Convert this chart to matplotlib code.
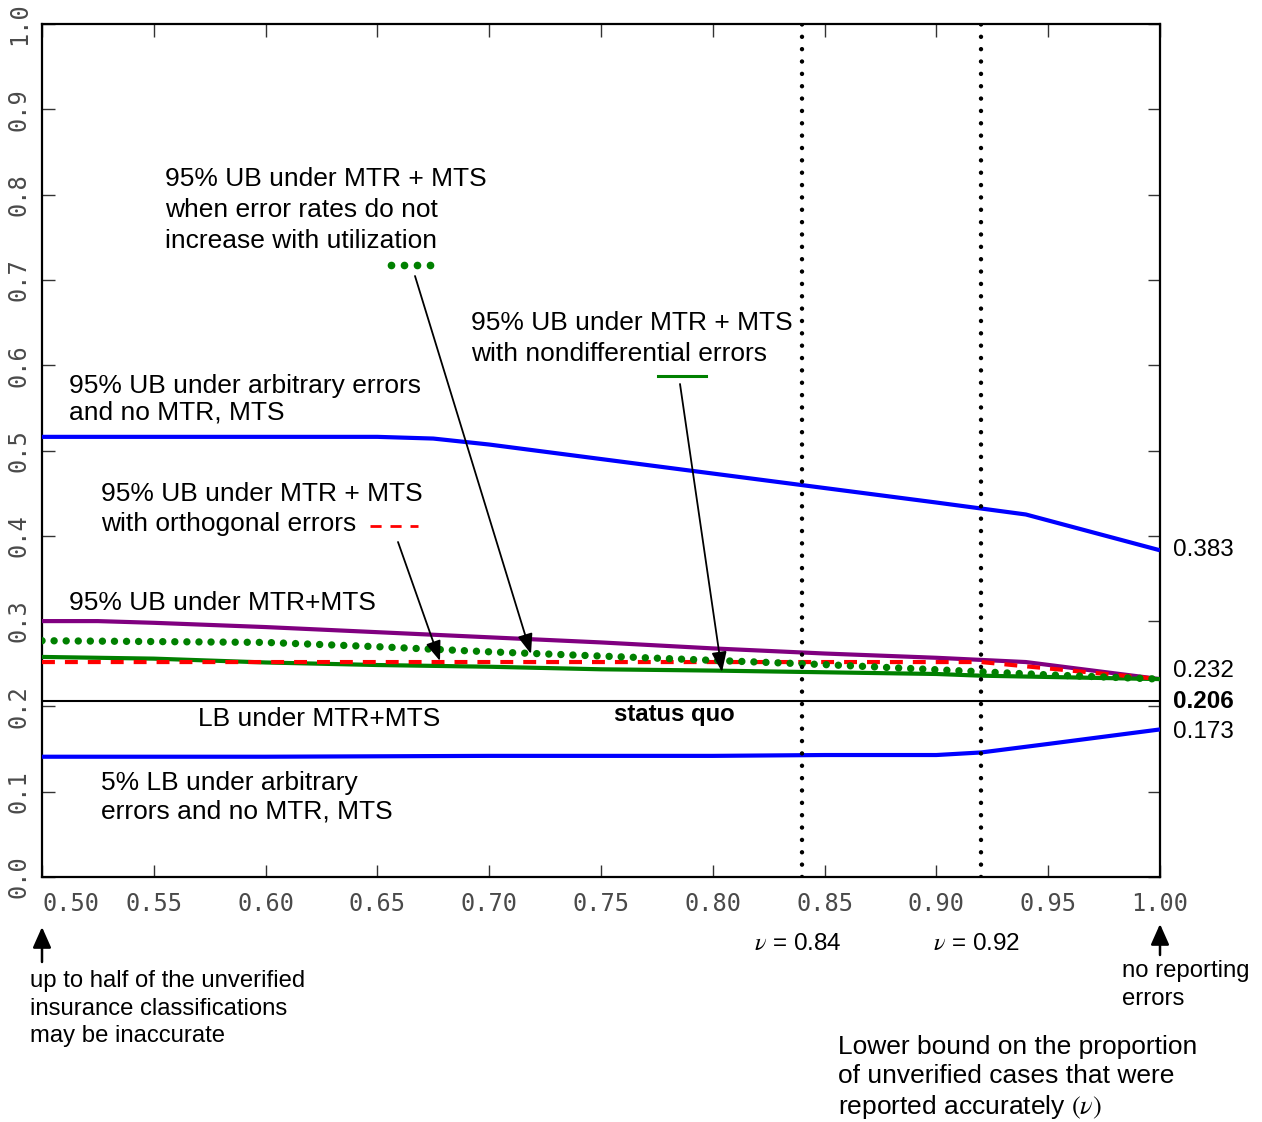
import matplotlib
matplotlib.use("Agg")
import matplotlib.pyplot as plt
from matplotlib.lines import Line2D

plt.rcParams["mathtext.fontset"] = "stix"

# ---------------- data ----------------
v_ub_arb = [0.50, 0.55, 0.60, 0.65, 0.675, 0.70, 0.75, 0.80, 0.85, 0.90, 0.94, 1.00]
ub_arb = [0.516, 0.516, 0.516, 0.516, 0.514, 0.507, 0.490, 0.473, 0.456, 0.439, 0.425, 0.383]

v_lb_arb = [0.50, 0.60, 0.70, 0.80, 0.85, 0.90, 0.92, 0.95, 1.00]
lb_arb = [0.141, 0.141, 0.142, 0.142, 0.143, 0.143, 0.146, 0.156, 0.173]

v_ub_mm = [0.50, 0.525, 0.55, 0.60, 0.65, 0.70, 0.75, 0.80, 0.85, 0.90, 0.94, 1.00]
ub_mm = [0.300, 0.300, 0.298, 0.293, 0.287, 0.281, 0.275, 0.268, 0.262, 0.257, 0.252, 0.232]

v_ub_noinc = [0.50, 0.55, 0.60, 0.65, 0.70, 0.75, 0.80, 0.85, 0.90, 0.95, 1.00]
ub_noinc = [0.277, 0.276, 0.275, 0.270, 0.264, 0.259, 0.254, 0.249, 0.243, 0.237, 0.232]

v_ub_orth = [0.50, 0.60, 0.70, 0.80, 0.92, 1.00]
ub_orth = [0.252, 0.252, 0.252, 0.252, 0.252, 0.232]

v_ub_nondiff = [0.50, 0.55, 0.60, 0.65, 0.70, 0.75, 0.80, 0.85, 0.90, 0.92, 1.00]
ub_nondiff = [0.258, 0.256, 0.2515, 0.2485, 0.2465, 0.2435, 0.242, 0.240, 0.238, 0.236, 0.232]

status_quo = 0.206
v_marks = [0.84, 0.92]
v_mark_labels = ["0.84", "0.92"]

x_ticks = [0.50, 0.55, 0.60, 0.65, 0.70, 0.75, 0.80, 0.85, 0.90, 0.95, 1.00]
x_tick_labels = ["0.50", "0.55", "0.60", "0.65", "0.70", "0.75", "0.80", "0.85", "0.90", "0.95", "1.00"]
y_ticks = [0.0, 0.1, 0.2, 0.3, 0.4, 0.5, 0.6, 0.7, 0.8, 0.9, 1.0]
y_tick_labels = ["0.0", "0.1", "0.2", "0.3", "0.4", "0.5", "0.6", "0.7", "0.8", "0.9", "1.0"]

end_values = [0.383, 0.232, 0.206, 0.173]
end_labels = ["0.383", "0.232", "0.206", "0.173"]

# ---------------- figure ----------------
W, H = 1262, 1122
fig = plt.figure(figsize=(W / 100, H / 100), dpi=100)
L, R, T, B = 42, 1160, 24, 877
ax = fig.add_axes([L / W, 1 - B / H, (R - L) / W, (B - T) / H])
ax.set_xlim(0.5, 1.0)
ax.set_ylim(0.0, 1.0)

TXT = "Liberation Sans"
FS = 19

BLUE = "#0000ff"
GREEN = "#008000"
PURPLE = "#800080"
RED = "#ff0000"

# lines
ax.plot(v_ub_arb, ub_arb, color=BLUE, lw=3, solid_capstyle="butt", zorder=3)
ax.plot(v_lb_arb, lb_arb, color=BLUE, lw=3, solid_capstyle="butt", zorder=3)
ax.plot(v_ub_mm, ub_mm, color=PURPLE, lw=3, solid_capstyle="butt", zorder=3)
ax.plot(v_ub_nondiff, ub_nondiff, color=GREEN, lw=3, solid_capstyle="butt", zorder=3)
ax.plot(v_ub_orth, ub_orth, color=RED, lw=3, linestyle=(0, (3.1, 2.4)), zorder=4)
ax.plot(v_ub_noinc, ub_noinc, color=GREEN, lw=5.3, linestyle=(0, (0.01, 1.63)),
        dash_capstyle="round", zorder=5)

ax.axhline(status_quo, color="black", lw=1.5, zorder=2)
for vm in v_marks:
    ax.axvline(vm, color="black", lw=3.2, linestyle=(0, (0.01, 2.77)),
               dash_capstyle="round", zorder=6)

# axes styling
for s in ax.spines.values():
    s.set_linewidth(1.6)
    s.set_color("black")
ax.set_xticks(x_ticks)
ax.set_xticklabels(x_tick_labels)
ax.set_yticks(y_ticks)
ax.set_yticklabels(y_tick_labels, rotation=90, va="center")
ax.tick_params(axis="both", direction="in", length=9, width=1.0, color="#333333",
               top=True, right=True, labelsize=17, labelcolor="#4a4a4a")
ax.tick_params(axis="x", pad=11)
ax.tick_params(axis="y", pad=8)
for lab in ax.get_xticklabels() + ax.get_yticklabels():
    lab.set_fontfamily("DejaVu Sans Mono")
ax.get_xticklabels()[0].set_horizontalalignment("left")

# ---------------- helpers ----------------
def px2data(px, py):
    return (0.5 + (px - L) / (R - L) * 0.5, (B - py) / (B - T))

def lines_at(px, baselines, lines, **kw):
    for py, s in zip(baselines, lines):
        x, y = px2data(px, py)
        ax.text(x, y, s, fontsize=kw.get("fs", FS), family=TXT, ha=kw.get("ha", "left"),
                va="baseline", fontweight=kw.get("fw", "normal"), clip_on=False, zorder=7)

def arrow(p_from, p_to, lw=1.3, ms=27, hw=0.17):
    ax.annotate("", xy=px2data(*p_to), xytext=px2data(*p_from),
                arrowprops=dict(arrowstyle=f"-|>,head_length=0.45,head_width={hw}",
                                mutation_scale=ms, lw=lw, color="black",
                                shrinkA=0, shrinkB=0),
                annotation_clip=False, zorder=8)

# ---------------- annotations ----------------
lines_at(165, [186, 217, 248], ["95% UB under MTR + MTS", "when error rates do not",
                                "increase with utilization"])
xs = [px2data(x, 265) for x in (391, 404, 417, 430)]
ax.add_line(Line2D([a for a, b in xs], [b for a, b in xs], color=GREEN, lw=0,
                   marker="o", ms=4.5, clip_on=False))
arrow((415, 276), (531, 654))

lines_at(471, [330, 361], ["95% UB under MTR + MTS", "with nondifferential errors"])
a0, b0 = px2data(658, 376)
a1, _ = px2data(706, 376)
ax.add_line(Line2D([a0, a1], [b0, b0], color=GREEN, lw=2.2, clip_on=False))
arrow((680, 384), (722, 672))

lines_at(69, [393, 420], ["95% UB under arbitrary errors", "and no MTR, MTS"])

lines_at(101, [501, 531], ["95% UB under MTR + MTS", "with orthogonal errors"])
a0, b0 = px2data(370, 526)
a1, _ = px2data(418, 526)
ax.add_line(Line2D([a0, a1], [b0, b0], color=RED, lw=2.0, linestyle=(0, (4.0, 3.2)),
                   clip_on=False))
arrow((398, 542), (440, 661))

lines_at(69, [610], ["95% UB under MTR+MTS"])
lines_at(198, [726], ["LB under MTR+MTS"])
lines_at(674, [721], ["status quo"], ha="center", fw="bold", fs=17.2)
lines_at(101, [790, 818], ["5% LB under arbitrary", "errors and no MTR, MTS"])

# right end labels
offsets = [0, 8, 0, -3]
for val, lab, off in zip(end_values, end_labels, offsets):
    ax.annotate(lab, xy=(1.0, val), xytext=(9, off * 0.72), textcoords="offset points",
                ha="left", va="center", fontsize=17.5, family=TXT,
                fontweight="bold" if lab == "0.206" else "normal",
                annotation_clip=False)

# v = labels below axis
for vm, lab in zip(v_marks, v_mark_labels):
    ax.text(vm - 0.002, px2data(0, 950)[1], r"$\nu$" + " = " + lab, fontsize=17.5,
            family=TXT, ha="center", va="baseline", clip_on=False)

# bottom arrows & notes
arrow((42, 962), (42, 927), lw=1.8, ms=28, hw=0.2)
lines_at(30, [987, 1015, 1042], ["up to half of the unverified", "insurance classifications",
                                 "may be inaccurate"], fs=17.2)
arrow((1160, 955), (1160, 924), lw=1.8, ms=28, hw=0.2)
lines_at(1122, [977, 1005], ["no reporting", "errors"], fs=17.2)
lines_at(838, [1054, 1083], ["Lower bound on the proportion", "of unverified cases that were"])
x, y = px2data(838, 1114)
ax.text(x, y, r"reported accurately $(\nu)$", fontsize=FS, family=TXT, va="baseline",
        clip_on=False)

fig.savefig("out.png", dpi=100)
